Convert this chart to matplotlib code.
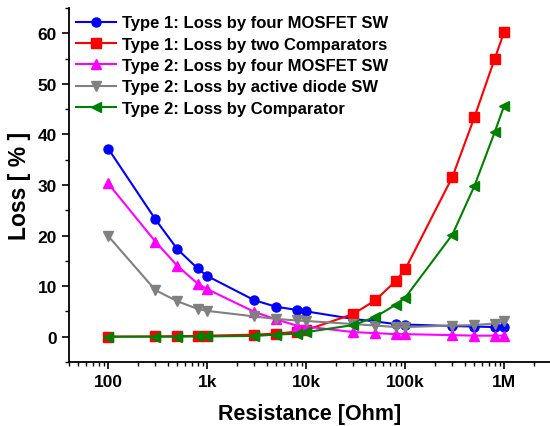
import matplotlib
matplotlib.use("Agg")
import matplotlib.pyplot as plt
from matplotlib.ticker import FixedLocator, LogLocator, NullFormatter, MultipleLocator

plt.rcParams['font.family'] = ['Liberation Sans', 'DejaVu Sans']
plt.rcParams['font.weight'] = 'bold'

resistance = [100, 300, 500, 800, 1e3, 3e3, 5e3, 8e3, 1e4, 3e4, 5e4, 8e4, 1e5, 3e5, 5e5, 8e5, 1e6]

t1_mosfet = [37.2, 23.2, 17.3, 13.5, 12.0, 7.2, 5.9, 5.3, 5.0, 3.5, 3.0, 2.5, 2.4, 2.1, 2.0, 1.9, 1.9]
t1_comp = [0.0, 0.05, 0.1, 0.15, 0.2, 0.4, 0.6, 1.0, 1.3, 4.5, 7.2, 11.0, 13.3, 31.6, 43.4, 54.9, 60.3]
t2_mosfet = [30.3, 18.8, 14.0, 10.5, 9.4, 4.9, 3.4, 2.2, 2.0, 0.9, 0.7, 0.5, 0.5, 0.3, 0.2, 0.2, 0.2]
t2_diode = [19.9, 9.2, 7.0, 5.5, 5.1, 4.0, 3.5, 3.2, 3.1, 2.5, 2.2, 1.9, 1.9, 2.2, 2.3, 2.6, 3.0]
t2_comp = [0.0, 0.0, 0.0, 0.05, 0.05, 0.15, 0.4, 0.6, 0.9, 2.3, 3.9, 6.3, 7.7, 20.2, 29.8, 40.4, 45.7]

labels = ["Type 1: Loss by four MOSFET SW",
          "Type 1: Loss by two Comparators",
          "Type 2: Loss by four MOSFET SW",
          "Type 2: Loss by active diode SW",
          "Type 2: Loss by Comparator"]

fig = plt.figure(figsize=(5.5, 4.27), dpi=100)
ax = fig.add_axes([0.125, 0.15, 0.875, 0.829])

series = [
    (t1_mosfet, '#0000FF', 'o'),
    (t1_comp, '#FF0000', 's'),
    (t2_mosfet, '#FF00FF', '^'),
    (t2_diode, '#808080', 'v'),
    (t2_comp, '#008000', '<'),
]
for (vals, c, m), lab in zip(series, labels):
    ax.plot(resistance, vals, color=c, marker=m, markersize=6.5, linewidth=1.5,
            markeredgecolor=c, label=lab, clip_on=False)

ax.set_xscale('log')
ax.set_xlim(40, 2.9e6)
ax.set_ylim(-5, 65)

ax.xaxis.set_major_locator(FixedLocator([1e2, 1e3, 1e4, 1e5, 1e6]))
ax.set_xticklabels(['100', '1k', '10k', '100k', '1M'])
ax.xaxis.set_minor_locator(LogLocator(base=10, subs=range(2, 10), numticks=20))
ax.xaxis.set_minor_formatter(NullFormatter())
ax.yaxis.set_major_locator(MultipleLocator(10))
ax.yaxis.set_minor_locator(MultipleLocator(5))

for s in ['top', 'right']:
    ax.spines[s].set_visible(False)
for s in ['left', 'bottom']:
    ax.spines[s].set_linewidth(1.3)

ax.tick_params(which='major', direction='out', length=5, width=1.2, labelsize=12.5)
ax.tick_params(which='minor', direction='out', length=3, width=1.0)
for lbl in ax.get_xticklabels() + ax.get_yticklabels():
    lbl.set_fontweight('bold')

ax.set_xlabel('Resistance [Ohm]', fontsize=15.5, fontweight='bold', labelpad=10)
ax.set_ylabel('Loss [ % ]', fontsize=16.5, fontweight='bold', labelpad=5)

leg = ax.legend(loc='upper left', bbox_to_anchor=(0.0, 1.0), frameon=False,
                handlelength=2.4, labelspacing=0.38, borderaxespad=0.0, borderpad=0.45,
                handletextpad=0.36, prop={'weight': 'bold', 'size': 12})

fig.savefig('out.png', dpi=100)
